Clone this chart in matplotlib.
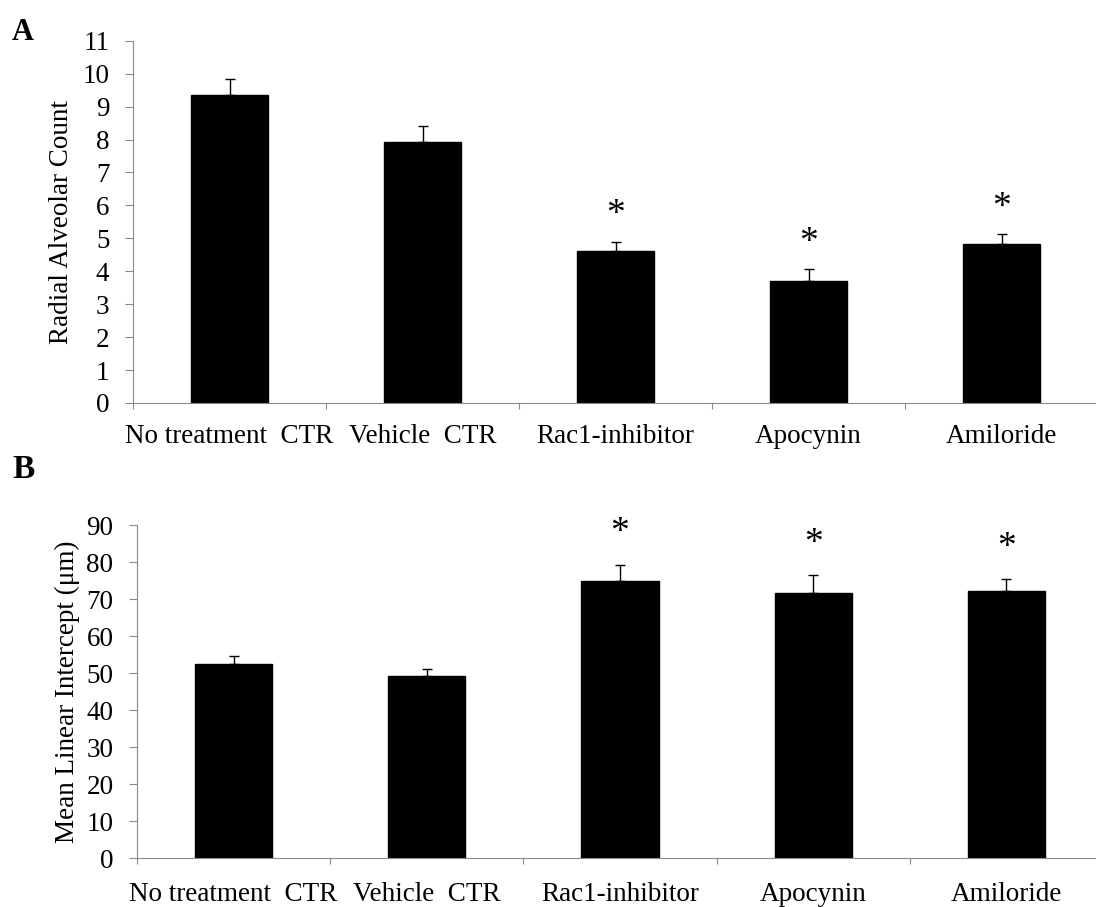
import matplotlib
matplotlib.use("Agg")
import matplotlib.pyplot as plt
import numpy as np

# groups shared by both panels
groups = ["No treatment  CTR", "Vehicle  CTR", "Rac1-inhibitor", "Apocynin", "Amiloride"]
significant = [False, False, True, True, True]

# panel A: radial alveolar count (mean, SEM)
rac_mean = [9.36, 7.93, 4.63, 3.70, 4.82]
rac_sem = [0.48, 0.48, 0.27, 0.36, 0.30]

# panel B: mean linear intercept in um (mean, SEM)
mli_mean = [52.4, 49.2, 75.0, 71.8, 72.2]
mli_sem = [2.3, 1.9, 4.3, 4.7, 3.2]

plt.rcParams["font.family"] = ["Liberation Serif", "DejaVu Serif"]
AXIS_GREY = "#8a8a8a"
FS = 19.5


def bar_panel(ax, means, sems, ylim, ystep, ylabel, label_x, xpad, star_off):
    x = np.arange(len(groups))
    ax.bar(x, means, width=0.4, color="black", edgecolor="black", zorder=2)
    ax.errorbar(x, means, yerr=[np.zeros(len(sems)), sems], fmt="none",
                ecolor="black", elinewidth=1.0, capsize=3.6, capthick=1.0, zorder=3)

    for xi, m, s, sig in zip(x, means, sems, significant):
        if sig:
            ax.annotate("*", (xi, m + s), xytext=(0, star_off), textcoords="offset points",
                        ha="center", va="center", fontsize=27)

    ax.set_xlim(-0.5, len(groups) - 0.5)
    ax.set_ylim(*ylim)
    ax.set_yticks(np.arange(ylim[0], ylim[1] + ystep / 2, ystep))

    # labels centred on the bars, short ticks on the category boundaries
    ax.set_xticks(x)
    ax.set_xticklabels(groups)
    ax.set_xticks(np.arange(-0.5, len(groups), 1.0), minor=True)
    ax.tick_params(axis="x", which="major", length=0, pad=xpad, labelsize=FS)
    ax.tick_params(axis="x", which="minor", length=4.5, width=0.8, color=AXIS_GREY)
    ax.tick_params(axis="y", length=6, width=0.8, color=AXIS_GREY, pad=11, labelsize=FS)

    for side in ("top", "right"):
        ax.spines[side].set_visible(False)
    for side in ("left", "bottom"):
        ax.spines[side].set_color(AXIS_GREY)
        ax.spines[side].set_linewidth(0.8)

    ax.set_ylabel(ylabel, fontsize=FS)
    ax.yaxis.set_label_coords(label_x, 0.5)


fig = plt.figure(figsize=(10.96, 9.07), dpi=100)
ax_a = fig.add_axes([0.1214, 0.5557, 0.8805, 0.3994])
ax_b = fig.add_axes([0.1250, 0.0540, 0.8814, 0.3668])

bar_panel(ax_a, rac_mean, rac_sem, (0, 11), 1, "Radial Alveolar Count",
          -0.061, 15, 19)
bar_panel(ax_b, mli_mean, mli_sem, (0, 90), 10, "Mean Linear Intercept (μm)",
          -0.059, 17, 23)

fig.text(12 / 1096, 1 - 40 / 907, "A", fontsize=22, fontweight="bold", va="baseline")
fig.text(12 / 1096, 1 - 478 / 907, "B", fontsize=24, fontweight="bold", va="baseline")

fig.savefig("out.png", dpi=100, facecolor="white")
